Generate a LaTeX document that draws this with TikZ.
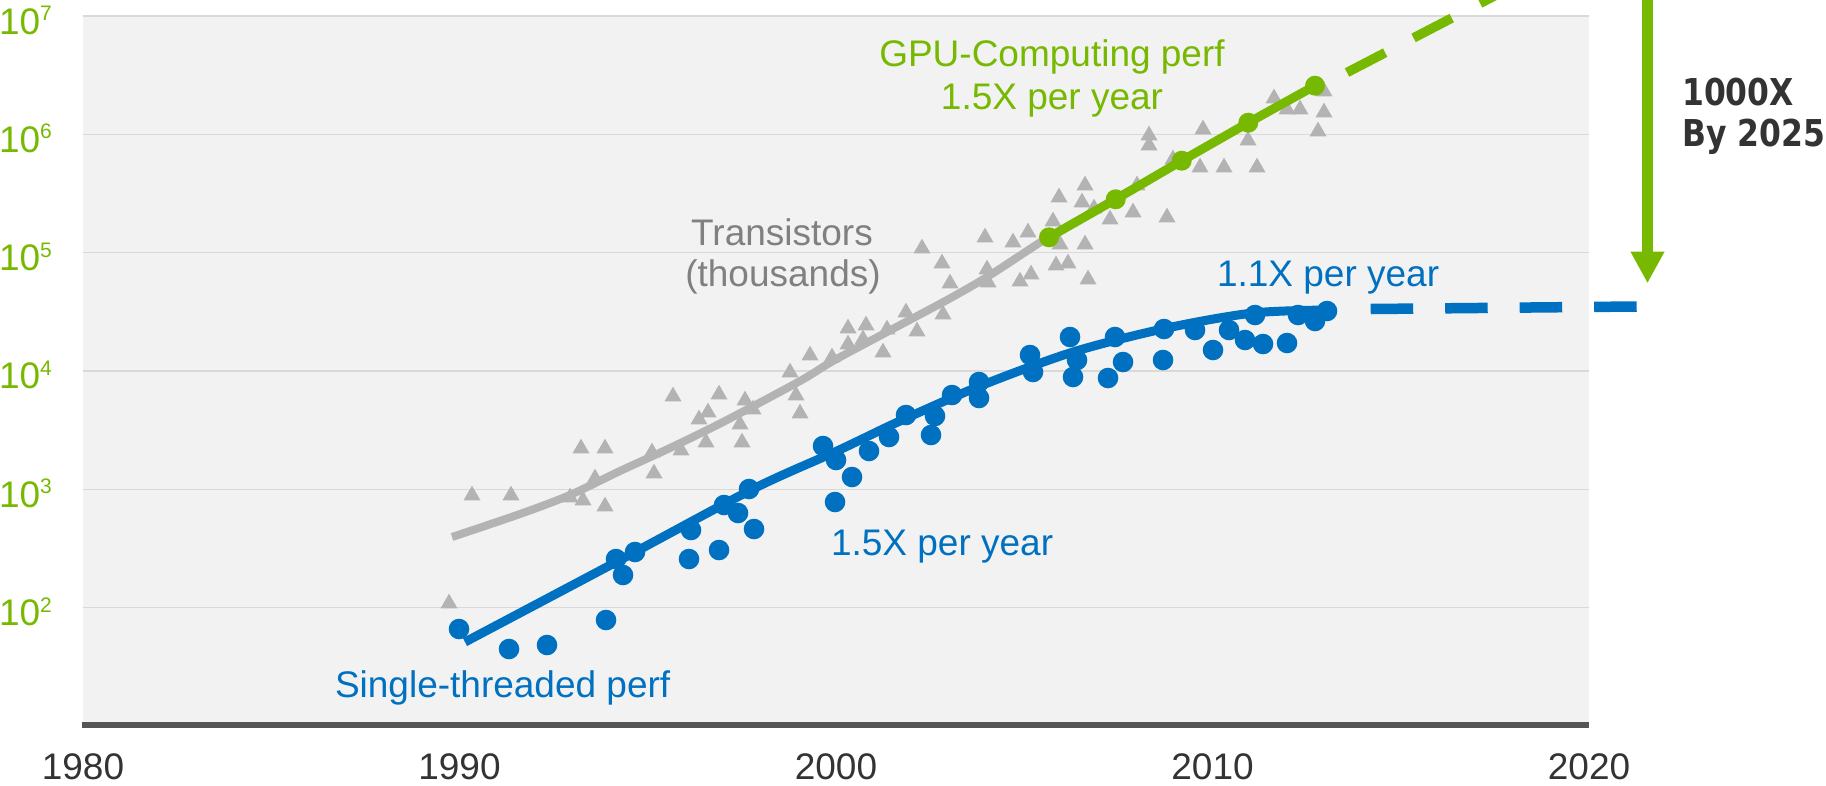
\documentclass[tikz,border=0pt]{standalone}
\usepackage{fontspec}
\usepackage{graphicx}
\setmainfont{Liberation Sans}
\newfontfamily\calloutfont{DejaVu Sans}
\usetikzlibrary{arrows.meta}

\definecolor{nvgreen}{HTML}{76B900}
\definecolor{cpublue}{HTML}{0070C0}
\definecolor{trigray}{HTML}{B3B3B3}
\definecolor{labelgray}{HTML}{808080}
\definecolor{plotbg}{HTML}{F2F2F2}
\definecolor{gridgray}{HTML}{D9D9D9}
\definecolor{axisgray}{HTML}{555555}
\definecolor{darktext}{HTML}{333333}

\tikzset{
  chartfont/.style={font=\fontsize{37}{42}\selectfont, inner sep=0pt, outer sep=0pt},
  ylab/.style={chartfont, text=nvgreen, anchor=base west},
  xlab/.style={chartfont, text=darktext, anchor=base},
  gridline/.style={draw=gridgray, line width=1.6pt},
  axisline/.style={draw=axisgray, line width=5.5pt},
  transline/.style={draw=trigray, line width=8pt},
  cpuline/.style={draw=cpublue, line width=9pt},
  gpuline/.style={draw=nvgreen, line width=9pt},
  gpudash/.style={draw=nvgreen, line width=9.5pt, dash pattern=on 43pt off 32pt},
  cpudash/.style={draw=cpublue, line width=10.5pt, dash pattern=on 42.5pt off 32pt},
  gainarrow/.style={draw=nvgreen, line width=10.4pt, -{Triangle[length=31.6pt,width=31.6pt]}},
  callout/.style={font=\calloutfont\bfseries\fontsize{37}{42}\selectfont, text=darktext, inner sep=0pt, anchor=base west},
  tri/.pic={\fill[trigray] (-8.5,7.35) -- (8.5,7.35) -- (0,-7.35) -- cycle;},
}

\begin{document}
\begin{tikzpicture}[x=1pt, y=-1pt]
\useasboundingbox (0,0) rectangle (1826,785);
\clip (0,0) rectangle (1826,785);

% plot area and grid
\fill[plotbg] (83,16) rectangle (1589,722);
\foreach \gy in {16,134.33,252.67,371,489.33,607.67}
  \draw[gridline] (83,\gy) -- (1589,\gy);

% y-axis labels (powers of ten)
\foreach \e [count=\i from 0] in {7,6,5,4,3,2}
  \node[ylab] (ytick\e) at (-1,{16+\i*118.33+18})
    {10{\fontsize{21}{21}\selectfont\raisebox{13.6pt}{\e}}};

% x-axis labels
\foreach \yr [count=\i from 0] in {1980,1990,2000,2010,2020}
  \node[xlab] (xtick\yr) at ({83+\i*376.5},779.5) {\yr};

% transistor counts
\foreach \p in {(449,601),(472,493),(511,493),(581,446),(605,446),(570,495),(583,498),
  (595,476),(605,504),(652,450),(654,471),(681,448),(706,440),(740,422),(742,440),
  (673,394),(719,392),(699,417),(708,410),(745,398),(753,407),(796,393),(800,411),
  (790,370),(810,353),(832,355),(848,326),(866,323),(848,342),(863,337),(887,327),
  (883,350),(906,310),(917,329),(943,312),(922,246),(942,261),(950,281),(985,235),
  (987,267),(988,280),(1013,240),(1028,230),(1053,219),(1059,195),(1085,183),
  (1082,200),(1094,206),(1110,217),(1133,210),(1167,215),(1060,242),(1085,242),
  (1056,263),(1068,261),(1088,277),(1031,272),(1020,279),(1137,183),(1149,133),
  (1149,143),(1203,127),(1248,138),(1200,165),(1224,165),(1257,165),(1173,157),
  (1274,96),(1287,107),(1300,107),(1324,89),(1324,110),(1318,129)}
  \pic at \p {tri};

\draw[transline] plot[smooth, tension=0.5] coordinates {(452,537) (520,514) (570,495)
  (620,471) (670,448) (725,421) (800,381) (833,361) (887,332) (947,300) (987,277)
  (1033,247) (1049,237) (1115,199) (1182,161) (1248,123) (1315,86)};

% single-threaded performance
\foreach \p in {(459,629),(509,649),(547,645),(606,620),(616,559),(623,575),(635,552),
  (691,530),(689,559),(719,550),(724,505),(738,513),(754,529),(749,489),(823,446),
  (836,460),(835,502),(852,477),(869,451),(889,437),(906,415),(935,416),(931,435),
  (952,395),(979,382),(979,398),(1030,355),(1033,372),(1070,337),(1077,360),(1073,377),
  (1108,378),(1123,362),(1115,337),(1164,329),(1163,360),(1195,330),(1213,350),
  (1229,330),(1245,340),(1255,315),(1263,344),(1287,343),(1298,315),(1315,321),(1327,311)}
  \fill[cpublue] \p circle[radius=10.3];

\draw[cpuline] plot[smooth, tension=0.5] coordinates {(465,642) (620,560) (753,489)
  (837,451) (900,421) (980,386) (1073,352) (1167,328) (1253,313) (1327,310)};

\coordinate (cpuA) at (1370.7,309);
\coordinate (cpuB) at (1636.7,306.5);
\draw[cpudash] (cpuA) -- (cpuB);

% GPU computing performance
\coordinate (g1) at (1049,237.3);
\coordinate (g2) at (1115.7,199.3);
\coordinate (g3) at (1181.7,160.7);
\coordinate (g4) at (1248.3,122.7);
\coordinate (g5) at (1315,85.7);
\draw[gpuline] (g1) -- (g2) -- (g3) -- (g4) -- (g5);
\foreach \g in {g1,g2,g3,g4,g5}
  \fill[nvgreen] (\g) circle[radius=10];

\coordinate (gpuA) at (1347,72.5);
\coordinate (gpuB) at (1500,-7);
\draw[gpudash] (gpuA) -- (gpuB);

% axis baseline
\draw[axisline] (81.5,725) -- (1589,725);

% series labels
\node[chartfont, text=nvgreen, anchor=base] (gpulabA) at (1052,66.7) {GPU-Computing perf};
\node[chartfont, text=nvgreen, anchor=base] (gpulabB) at (1052,109) {1.5X per year};
\node[chartfont, text=labelgray, anchor=base] (translabA) at (782,245) {Transistors};
\node[chartfont, text=labelgray, anchor=base] (translabB) at (783,286.7) {(thousands)};
\node[chartfont, text=cpublue, anchor=base west] (cpulate) at (1217,286.7) {1.1X per year};
\node[chartfont, text=cpublue, anchor=base west] (cpuearly) at (831,555) {1.5X per year};
\node[chartfont, text=cpublue, anchor=base west] (cpulab) at (335,697) {Single-threaded perf};

% projected gap
\coordinate (arrowtop) at (1647.5,-10);
\coordinate (arrowtip) at (1647.5,283.3);
\draw[gainarrow] (arrowtop) -- (arrowtip);
\node[callout] (gainA) at (1682,105) {\scalebox{0.85}[1]{1000X}};
\node[callout] (gainB) at (1682,146.7) {\scalebox{0.85}[1]{By 2025}};
\end{tikzpicture}
\end{document}
